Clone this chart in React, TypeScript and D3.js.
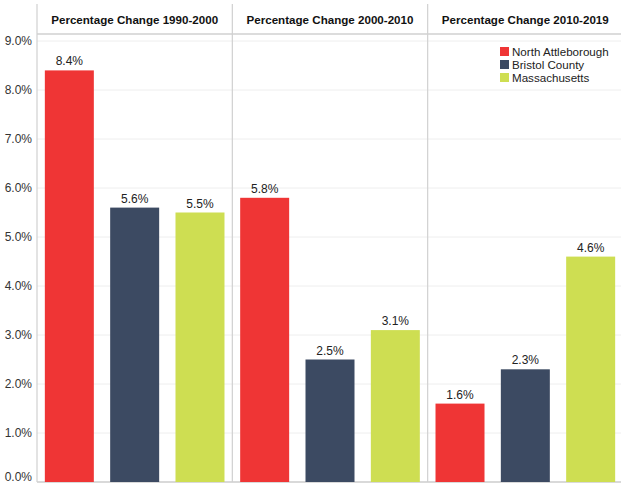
import React from "react";
import * as d3 from "d3";

const periods = ["Percentage Change 1990-2000", "Percentage Change 2000-2010", "Percentage Change 2010-2019"];
const places = ["North Attleborough", "Bristol County", "Massachusetts"];
const colors = ["#ef3535", "#3c4a62", "#cede52"];
// values per period, in places order
const northAttleborough = [8.4, 5.8, 1.6];
const bristolCounty = [5.6, 2.5, 2.3];
const massachusetts = [5.5, 3.1, 4.6];
const yTicks = [0, 1, 2, 3, 4, 5, 6, 7, 8, 9];

const W = 621;
const H = 485;
const left = 37;
const right = 623;
const headerTop = 4;
const headerBottom = 34;
const bottom = 482;

export default function App() {
  const series = [northAttleborough, bristolCounty, massachusetts];

  const panel = d3.scaleBand<string>().domain(periods).range([left, right]).padding(0);
  const inner = d3
    .scaleBand<string>()
    .domain(places)
    .range([0, panel.bandwidth()])
    .paddingInner(0.25)
    .paddingOuter(0.12);
  const y = d3.scaleLinear().domain([0, 9]).range([bottom, 41]);
  const font = "Arial, 'Liberation Sans', sans-serif";

  return (
    <svg width={W} height={H} style={{ position: "absolute", top: 0, left: 0 }} fontFamily={font}>
      <rect width={W} height={H} fill="#fff" />
      {yTicks.map(t => (
        <g key={t}>
          <line x1={left} x2={right} y1={y(t)} y2={y(t)} stroke="#eeeeee" />
          <text
            x={32}
            y={t === 0 ? y(t) - 5 : y(t)}
            dy="0.35em"
            textAnchor="end"
            fontSize={12}
            fill="#333"
          >
            {t.toFixed(1)}%
          </text>
        </g>
      ))}
      <line x1={left} x2={right} y1={headerBottom} y2={headerBottom} stroke="#d0d0d0" strokeWidth={1.5} />
      <line x1={left} x2={right} y1={bottom} y2={bottom} stroke="#cfcfcf" strokeWidth={1.5} />
      {periods.map((p, pi) => (
        <g key={p}>
          <line
            x1={panel(p)!}
            x2={panel(p)!}
            y1={headerTop}
            y2={bottom}
            stroke="#d0d0d0"
            strokeWidth={1.2}
          />
          <text
            x={panel(p)! + panel.bandwidth() / 2}
            y={24}
            textAnchor="middle"
            fontSize={11.6}
            fontWeight="bold"
            fill="#111"
          >
            {p}
          </text>
          {places.map((pl, i) => {
            const v = series[i][pi];
            const x = panel(p)! + inner(pl)!;
            return (
              <g key={pl}>
                <rect x={x} y={y(v)} width={inner.bandwidth()} height={bottom - y(v)} fill={colors[i]} />
                <text
                  x={x + inner.bandwidth() / 2}
                  y={y(v) - 5}
                  textAnchor="middle"
                  fontSize={12}
                  fill="#222"
                >
                  {v.toFixed(1)}%
                </text>
              </g>
            );
          })}
        </g>
      ))}
      {places.map((pl, i) => (
        <g key={pl} transform={`translate(500, ${47 + i * 13})`}>
          <rect width={9} height={9} fill={colors[i]} />
          <text x={12} y={4.5} dy="0.35em" fontSize={11.6} fill="#222">
            {pl}
          </text>
        </g>
      ))}
    </svg>
  );
}
